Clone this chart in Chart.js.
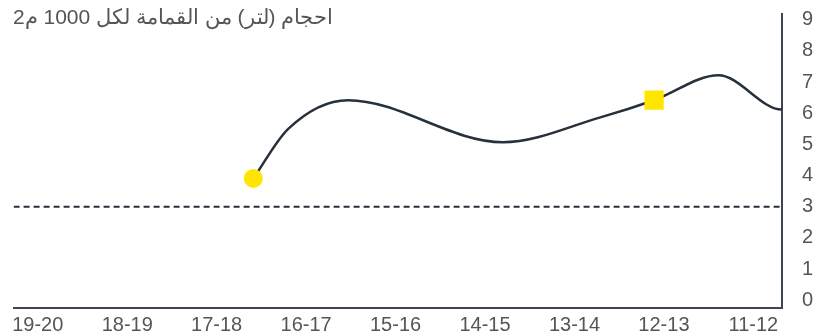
<!DOCTYPE html>
<html>
<head>
<meta charset="utf-8">
<script src="https://cdn.jsdelivr.net/npm/chart.js@4.4.1/dist/chart.umd.min.js"></script>
<style>
  html, body { margin: 0; padding: 0; background: #fff; }
  #wrap { width: 828px; height: 335px; }
</style>
</head>
<body>
<div id="wrap"><canvas id="chart"></canvas></div>
<script>
/* ─── Data ─── */
const TITLE = 'احجام (لتر) من القمامة لكل 1000 م2';
const categories = ['19-20', '18-19', '17-18', '16-17', '15-16', '14-15', '13-14', '12-13', '11-12'];
const yTicks = [0, 1, 2, 3, 4, 5, 6, 7, 8, 9];

// curve positions are in category units (0 = first label); last point sits past the edge
const curveX = [2.41, 2.8, 3.47, 5.2, 6.29, 6.89, 7.61, 8.32, 8.6];
const curveY = [3.91, 5.5, 6.42, 5.07, 5.87, 6.42, 7.22, 6.12, 6.12];

const circleMarker = { x: 2.41, y: 3.91 };
const squareMarker = { x: 6.89, y: 6.42 };
const targetValue = 3;

const INK = '#27313c';
const TEXT = '#555';
const YELLOW = '#ffe600';
const FONT = "'Liberation Sans', Arial, sans-serif";

/* ─── Title drawn over the plot ─── */
const titlePlugin = {
  id: 'topTitle',
  afterDraw(chart) {
    const ctx = chart.ctx;
    ctx.save();
    ctx.font = '21px ' + FONT;
    ctx.fillStyle = TEXT;
    ctx.textBaseline = 'middle';
    ctx.textAlign = 'left';
    ctx.fillText(TITLE, 13, 18);
    ctx.restore();
  },
};

// drop the label overhang padding so the plot keeps its own edges
const noOverhang = (axis) => {
  axis.paddingTop = 0;
  axis.paddingBottom = 0;
  axis.paddingLeft = 0;
  axis.paddingRight = 0;
};

const points = curveX.map((x, i) => ({ x, y: curveY[i] }));

new Chart(document.getElementById('chart'), {
  type: 'line',
  data: {
    datasets: [
      {
        label: 'start',
        data: [circleMarker],
        showLine: false,
        pointStyle: 'circle',
        pointRadius: 9.5,
        pointBackgroundColor: YELLOW,
        pointBorderWidth: 0,
        order: 0,
      },
      {
        label: 'mark',
        data: [squareMarker],
        showLine: false,
        pointStyle: 'rect',
        pointRadius: 13.6,
        pointBackgroundColor: YELLOW,
        pointBorderWidth: 0,
        order: 0,
      },
      {
        label: 'value',
        data: points,
        borderColor: INK,
        borderWidth: 2.5,
        pointRadius: 0,
        cubicInterpolationMode: 'monotone',
        order: 1,
      },
      {
        label: 'target',
        data: [{ x: -0.27, y: targetValue }, { x: 8.32, y: targetValue }],
        borderColor: INK,
        borderWidth: 1.8,
        borderDash: [6, 4],
        pointRadius: 0,
        tension: 0,
        order: 2,
      },
    ],
  },
  options: {
    responsive: true,
    maintainAspectRatio: false,
    animation: false,
    layout: { padding: { left: 13, top: 13, right: 0, bottom: 0 } },
    plugins: {
      legend: { display: false },
      tooltip: { enabled: false },
    },
    scales: {
      x: {
        type: 'linear',
        min: -0.27,
        max: 8.32,
        afterBuildTicks: (axis) => { axis.ticks = categories.map((_, i) => ({ value: i })); },
        afterFit: (axis) => { axis.height = 27; noOverhang(axis); },
        grid: { display: false, drawTicks: false },
        border: { display: true, color: '#3d4651', width: 2 },
        ticks: {
          padding: 5,
          color: TEXT,
          font: { family: FONT, size: 20 },
          maxRotation: 0,
          autoSkip: false,
          callback: (v) => categories[v],
        },
      },
      y: {
        position: 'right',
        min: -0.25,
        max: 9.2,
        afterBuildTicks: (axis) => { axis.ticks = yTicks.map((v) => ({ value: v })); },
        afterFit: (axis) => { axis.width = 46; noOverhang(axis); },
        grid: { display: false, drawTicks: false },
        border: { display: true, color: '#3d4651', width: 2 },
        ticks: {
          padding: 20,
          color: TEXT,
          font: { family: FONT, size: 20 },
        },
      },
    },
  },
  plugins: [titlePlugin],
});
</script>
</body>
</html>
